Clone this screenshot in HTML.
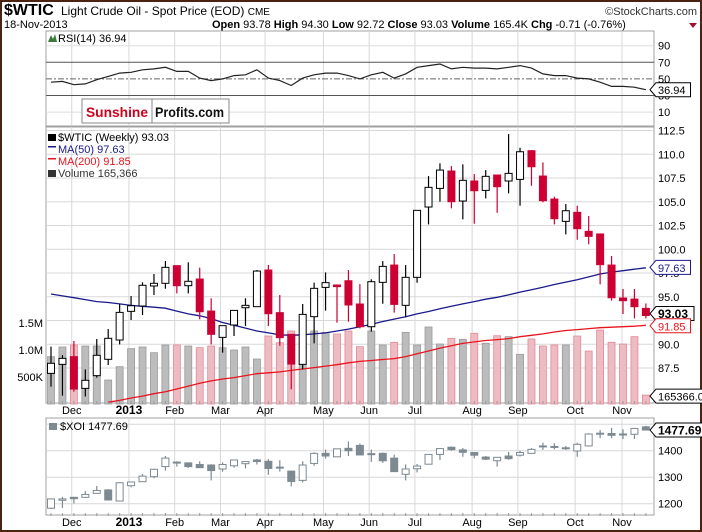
<!DOCTYPE html>
<html><head><meta charset="utf-8">
<style>
html,body{margin:0;padding:0;background:#fff;}
#wrap{position:relative;width:702px;height:532px;overflow:hidden;}
svg{display:block;font-family:"Liberation Sans",sans-serif;}
</style></head>
<body>
<div id="wrap">
<svg id="chart" width="702" height="532" viewBox="0 0 702 532">
  <rect x="0" y="0" width="702" height="532" fill="#fff"/>
  <rect x="1" y="1" width="700" height="530" fill="none" stroke="#4a2410" stroke-width="2"/>
  <text x="4" y="15" font-size="16" font-weight="bold" fill="#000">$WTIC</text>
  <text x="61" y="15" font-size="12" fill="#000">Light Crude Oil - Spot Price (EOD) <tspan font-size="10">CME</tspan></text>
  <text x="697" y="15" font-size="11" fill="#333" text-anchor="end">©StockCharts.com</text>
  <text x="4" y="28" font-size="11" fill="#000">18-Nov-2013</text>
  <text x="212" y="28" font-size="11" fill="#000"><tspan font-weight="bold">Open</tspan> 93.78 <tspan font-weight="bold">High</tspan> 94.30 <tspan font-weight="bold">Low</tspan> 92.72 <tspan font-weight="bold">Close</tspan> 93.03 <tspan font-weight="bold">Volume</tspan> 165.4K <tspan font-weight="bold">Chg</tspan> -0.71 (-0.76%)</text>
  <polygon points="689,23 697,23 693,28" fill="#a0102a"/>
  <g id="rsiG"></g>
  <g id="mainG"></g>
  <g id="xoiG"></g>
  <g>
    <rect x="82" y="99" width="147" height="24" fill="#fff" stroke="#888"/>
    <line x1="152" y1="99" x2="152" y2="123" stroke="#888"/>
    <text x="86" y="117" font-size="14" font-weight="bold" fill="#d0021b" textLength="62" lengthAdjust="spacingAndGlyphs">Sunshine</text>
    <text x="155" y="117" font-size="14" font-weight="bold" fill="#111" textLength="69" lengthAdjust="spacingAndGlyphs">Profits.com</text>
  </g>
</svg>
</div>
<script>
// ---- data ----
const weeks = ["Nov19","Nov26","Dec03","Dec10","Dec17","Dec24","Dec31","Jan07","Jan14","Jan21","Jan28","Feb04","Feb11","Feb19","Feb25","Mar04","Mar11","Mar18","Mar25","Apr01","Apr08","Apr15","Apr22","Apr29","May06","May13","May20","May28","Jun03","Jun10","Jun17","Jun24","Jul01","Jul08","Jul15","Jul22","Jul29","Aug05","Aug12","Aug19","Aug26","Sep03","Sep09","Sep16","Sep23","Sep30","Oct07","Oct14","Oct21","Oct28","Nov04","Nov11","Nov18"];
const wOpen  = [86.94,87.89,88.70,85.36,86.70,88.42,90.45,93.47,94.03,96.14,96.42,98.28,96.17,96.87,93.50,90.73,92.03,93.85,93.96,97.82,93.33,91.05,87.89,92.91,95.99,96.24,96.69,94.24,91.85,96.52,98.34,94.10,97.05,104.45,106.41,108.24,105.08,107.19,106.20,107.82,107.19,107.36,110.38,107.71,105.29,102.94,103.89,101.89,101.61,98.34,94.87,94.76,93.78];
const wHigh  = [89.75,88.87,90.35,87.36,90.56,91.61,94.24,95.08,96.52,97.40,98.77,98.28,98.63,98.07,94.84,91.96,93.57,94.84,97.82,98.35,95.19,91.05,94.24,96.49,97.57,96.30,97.82,96.34,96.84,98.76,99.50,98.34,104.10,107.71,109.05,108.76,108.94,107.92,108.34,107.82,112.13,110.69,110.45,109.15,105.54,104.76,104.59,103.50,101.68,99.29,95.82,95.82,94.30];
const wLow   = [85.54,84.59,85.01,84.50,86.49,87.82,89.99,92.56,93.08,95.19,95.85,95.36,95.36,92.63,89.99,89.12,90.87,91.92,93.96,91.92,89.85,85.26,87.36,90.10,93.54,92.28,92.38,91.68,91.33,94.27,93.33,92.83,96.48,102.62,105.01,104.31,103.15,102.69,105.36,103.85,105.89,104.59,106.69,104.94,102.62,101.57,101.01,100.52,96.31,94.59,93.19,92.73,92.72];
const wClose = [88.00,88.52,85.29,86.21,88.84,90.63,93.36,94.06,96.21,96.42,98.10,96.17,96.63,93.43,91.05,91.96,93.57,94.10,97.71,93.22,90.70,87.92,93.15,95.89,96.49,96.07,94.14,91.85,96.59,98.20,94.20,97.05,104.10,106.52,108.34,105.01,107.26,106.17,107.68,106.59,107.99,110.27,108.69,105.12,103.22,104.06,102.17,101.36,98.38,94.90,94.59,93.96,93.03];
const volK   = [876,1056,1093,1074,1074,444,691,1025,1056,950,1093,1093,1074,1043,1074,1043,1000,1056,833,1259,1136,1352,1247,1352,1327,1296,1352,1062,1352,1093,1142,1327,1093,1426,1111,1216,1198,1309,1124,1265,1247,920,1204,1074,1093,1093,1259,981,1370,1142,1111,1247,165];
const ma50   = [95.3,95.1,94.9,94.7,94.5,94.4,94.25,94.1,94.0,93.9,93.8,93.5,93.2,93.0,92.7,92.3,92.0,91.7,91.4,91.2,91.0,90.95,91.0,91.1,91.2,91.4,91.6,91.85,92.1,92.4,92.65,92.9,93.2,93.45,93.75,94.0,94.25,94.5,94.75,94.95,95.2,95.5,95.75,96.0,96.3,96.55,96.8,97.1,97.4,97.6,97.75,97.9,98.05];
const ma200  = [null,null,null,null,null,83.9,84.1,84.35,84.55,84.8,85.0,85.3,85.6,85.9,86.15,86.35,86.5,86.7,86.9,87.0,87.1,87.25,87.4,87.55,87.7,87.85,88.05,88.2,88.3,88.4,88.5,88.7,89.0,89.3,89.6,89.85,90.1,90.25,90.4,90.5,90.6,90.8,90.95,91.1,91.3,91.45,91.55,91.65,91.75,91.8,91.85,91.9,92.0];
const rsi    = [46,47,43,44,49,53,57,58,61,62,64,59,59,51,48,50,54,55,61,51,48,42,51,55,57,57,54,50,55,58,51,56,64,66,68,62,64,63,63,62,64,66,63,56,54,54,51,50,46,41,41,40,37];
const xOpen  = [1183,1213,1224,1224,1239,1252,1210,1268,1283,1302,1340,1357,1354,1348,1346,1331,1343,1351,1365,1360,1338,1323,1288,1352,1390,1377,1409,1420,1389,1390,1372,1311,1332,1349,1386,1413,1403,1393,1376,1362,1380,1383,1390,1417,1416,1410,1399,1418,1464,1465,1462,1462,1490];
const xHigh  = [1220,1226,1226,1248,1267,1255,1280,1282,1312,1332,1380,1360,1356,1360,1349,1356,1365,1359,1369,1368,1364,1323,1360,1394,1404,1407,1435,1427,1404,1393,1385,1348,1350,1386,1408,1416,1410,1393,1380,1375,1395,1400,1410,1430,1428,1418,1430,1466,1478,1486,1481,1484,1494];
const xLow   = [1180,1184,1201,1222,1239,1212,1210,1262,1283,1296,1325,1340,1335,1336,1288,1321,1336,1333,1348,1309,1321,1265,1280,1343,1370,1377,1380,1384,1358,1354,1321,1288,1318,1349,1365,1400,1377,1371,1365,1340,1366,1378,1390,1403,1405,1403,1377,1416,1447,1447,1444,1444,1476];
const xClose = [1218,1218,1219,1235,1250,1214,1279,1282,1304,1330,1372,1357,1340,1336,1325,1348,1365,1359,1359,1333,1337,1284,1346,1390,1380,1407,1400,1384,1385,1362,1321,1331,1342,1386,1408,1404,1394,1383,1368,1375,1370,1393,1405,1418,1415,1411,1424,1463,1466,1458,1463,1484,1478];
const priceTicks = ["87.5","90.0","92.5","95.0","97.5","100.0","102.5","105.0","107.5","110.0","112.5"];
const rsiTicks = ["10","30","50","70","90"];
const xoiTicks = ["1200","1300","1400","1500"];
const volTicks = ["500K","1.0M","1.5M"];
const monthLabels = ["Dec","2013","Feb","Mar","Apr","May","Jun","Jul","Aug","Sep","Oct","Nov"];
const monthStartIdx = [1.9,6.9,10.9,14.9,18.8,23.9,27.9,31.9,36.9,40.9,45.9,50.0];

// ---- scales ----
const L = 46, R = 654;
const NS = "http://www.w3.org/2000/svg";
function xs(i){ return 51 + i * 11.44; }
function yP(v){ return 154.3 + (110 - v) * 9.5; }
function yV(k){ return 404 - k / 18.52; }
function yR(v){ return 62.3 + (70 - v) * 0.83; }
function yX(v){ return 450.7 + (1400 - v) * 0.265; }
function mk(tag, attrs, parent){
  const el = document.createElementNS(NS, tag);
  for (const k in attrs) el.setAttribute(k, attrs[k]);
  parent.appendChild(el);
  return el;
}
const rsiG = document.getElementById('rsiG');
const mainG = document.getElementById('mainG');
const xoiG = document.getElementById('xoiG');

function frame(g, top, bot, name){
  const r = mk('rect', {x:L, y:top, width:R-L, height:bot-top, fill:'#fff', stroke:'#a0a0a0'}, g);
  
  
}
function vgrid(g, top, bot){
  monthStartIdx.forEach((m, j) => {
    const x = xs(m) - 1;
    const ln = mk('line', {x1:x, y1:top, x2:x, y2:bot, stroke:'#d8d8d8'}, g);
    
    
  });
}
function monthAxis(g, y){
  monthLabels.forEach((lab, j) => {
    const t = mk('text', {x:xs(monthStartIdx[j]) - 1, y:y, 'font-size': lab === '2013' ? 12 : 11, 'font-weight': lab === '2013' ? 'bold' : 'normal', 'text-anchor':'middle', fill:'#000'}, g);
    t.textContent = lab;
    
    
  });
  for (let i = 0; i < weeks.length; i++) {
    const tk = mk('line', {x1:xs(i), y1:y-13, x2:xs(i), y2:y-10, stroke:'#999'}, g);
    
    
  }
}
function tag(g, x, y, txt, color, bold, name){
  const w = txt.length * (bold ? 6.8 : 6.1) + 4;
  const p = mk('path', {d:`M${x},${y} L${x+6},${y-7} L${x+6+w},${y-7} L${x+6+w},${y+7} L${x+6},${y+7} Z`, fill:'#fff', stroke:color}, g);
  
  
  const t = mk('text', {x:x+8, y:y+4.5, 'font-size': bold ? 12 : 11, 'font-weight': bold ? 'bold' : 'normal', fill: bold ? '#000' : color}, g);
  t.textContent = txt;
  
  
}

// ---- RSI panel ----
frame(rsiG, 31, 126, 'rsi-frame');
vgrid(rsiG, 31, 126);
rsiTicks.forEach(v => {
  const n = +v;
  const y = yR(n);
  const st = (n === 30 || n === 70) ? '#555' : '#ddd';
  const ln = mk('line', {x1:L, y1:y, x2:R, y2:y, stroke:st}, rsiG);
  if (n === 50) { ln.setAttribute('stroke', '#666'); ln.setAttribute('stroke-dasharray', '6,2,2,2'); }
  
  
  const t = mk('text', {x:658, y:y+4, 'font-size':11, fill:'#000'}, rsiG);
  t.textContent = v;
  
  
});
{
  let d = '';
  rsi.forEach((v, i) => { d += (i ? 'L' : 'M') + xs(i).toFixed(1) + ',' + yR(v).toFixed(1); });
  const p = mk('path', {d:d, fill:'none', stroke:'#222', 'stroke-width':1.2}, rsiG);
  
  
  const t = mk('text', {x:58, y:42, 'font-size':11, fill:'#000'}, rsiG);
  t.textContent = 'RSI(14) 36.94';
  
  
  const ic = mk('path', {d:'M48,42 L51,35 L53,39 L55,34 L57,42 Z', fill:'#3a7a3a'}, rsiG);
  
  
  tag(rsiG, 650, yR(rsi[rsi.length-1]), '36.94', '#000', false, 'rsi-value-tag');
}

// ---- Main panel ----
frame(mainG, 127, 403, 'price-frame');
vgrid(mainG, 127, 403);
priceTicks.forEach(s => {
  const y = yP(+s);
  const ln = mk('line', {x1:L, y1:y, x2:R, y2:y, stroke:'#d8d8d8'}, mainG);
  
  
  const t = mk('text', {x:658, y:y+4, 'font-size':11, fill:'#000'}, mainG);
  t.textContent = s;
  
  
});
volTicks.forEach((s, j) => {
  const y = yV((j + 1) * 500);
  const t = mk('text', {x:43, y:y+4, 'font-size':11, 'text-anchor':'end', fill:'#000'}, mainG);
  t.textContent = s;
  
  
});
volK.forEach((v, i) => {
  const down = wClose[i] < wOpen[i];
  const b = mk('rect', {x:xs(i)-3.5, y:yV(v), width:7, height:404-yV(v), fill: down ? '#ecbcc2' : '#bcbcbc', stroke: down ? '#e28a96' : '#9a9a9a', 'stroke-width':0.8}, mainG);
  
  
});
function maLine(arr, color, name){
  let d = '', started = false;
  arr.forEach((v, i) => { if (v === null) return; d += (started ? 'L' : 'M') + xs(i).toFixed(1) + ',' + yP(v).toFixed(1); started = true; });
  const p = mk('path', {d:d, fill:'none', stroke:color, 'stroke-width':1.3}, mainG);
  
  
}
maLine(ma50, '#1a1a8c', 'ma50-line');
maLine(ma200, '#e8141e', 'ma200-line');
function candles(g, O, H, Lo, C, ys, upFill, upStroke, dnFill, dnStroke, name){
  O.forEach((o, i) => {
    const c = C[i], x = xs(i);
    const down = c < o;
    const wk = mk('line', {x1:x, y1:ys(H[i]), x2:x, y2:ys(Lo[i]), stroke: down ? dnStroke : upStroke, 'stroke-width':1.2}, g);
    
    
    const top = ys(Math.max(o, c)), bot = ys(Math.min(o, c));
    const bd = mk('rect', {x:x-3.5, y:top, width:7, height:Math.max(1, bot-top), fill: down ? dnFill : upFill, stroke: down ? dnStroke : upStroke, 'stroke-width':1}, g);
    
    
  });
}
candles(mainG, wOpen, wHigh, wLow, wClose, yP, '#fff', '#000', '#cc0033', '#cc0033', 'wtic-candle');
monthAxis(mainG, 414);
{
  const lg = [['$WTIC (Weekly) 93.03','#000',137],['MA(50) 97.63','#1a1a8c',149],['MA(200) 91.85','#e8141e',161],['Volume 165,366','#333',173]];
  lg.forEach((e, j) => {
    const t = mk('text', {x:58, y:e[2]+4, 'font-size':11, fill:e[1]}, mainG);
    t.textContent = e[0];
    
    
    const ic = mk('rect', {x:48, y:e[2]-3, width:8, height: j === 1 || j === 2 ? 1.5 : 7, fill:e[1]}, mainG);
    
    
  });
  tag(mainG, 650, yP(ma50[ma50.length-1]) - 0.5, '97.63', '#1a1a8c', false, 'ma50-value-tag');
  tag(mainG, 650, yP(wClose[wClose.length-1]) - 2, '93.03', '#000', true, 'close-value-tag');
  tag(mainG, 650, yP(ma200[ma200.length-1]) + 0.5, '91.85', '#e8141e', false, 'ma200-value-tag');
  tag(mainG, 650, yV(volK[volK.length-1]) + 1, '165366.0', '#000', false, 'volume-value-tag');
}

// ---- XOI panel ----
frame(xoiG, 418, 515, 'xoi-frame');
vgrid(xoiG, 418, 515);
xoiTicks.forEach(s => {
  const y = yX(+s);
  const ln = mk('line', {x1:L, y1:y, x2:R, y2:y, stroke:'#d8d8d8'}, xoiG);
  
  
  if (s !== '1500') {
    const t = mk('text', {x:658, y:y+4, 'font-size':11, fill:'#000'}, xoiG);
    t.textContent = s;
    
    
  }
});
candles(xoiG, xOpen, xHigh, xLow, xClose, yX, '#fff', '#7d8a92', '#7d8a92', '#7d8a92', 'xoi-candle');
monthAxis(xoiG, 526);
{
  const t = mk('text', {x:60, y:430, 'font-size':11, fill:'#000'}, xoiG);
  t.textContent = '$XOI 1477.69';
  
  
  const ic = mk('rect', {x:49, y:423, width:8, height:7, fill:'#7d8a92'}, xoiG);
  
  
  tag(xoiG, 650, yX(xClose[xClose.length-1]), '1477.69', '#000', true, 'xoi-value-tag');
}
</script>
</body></html>
